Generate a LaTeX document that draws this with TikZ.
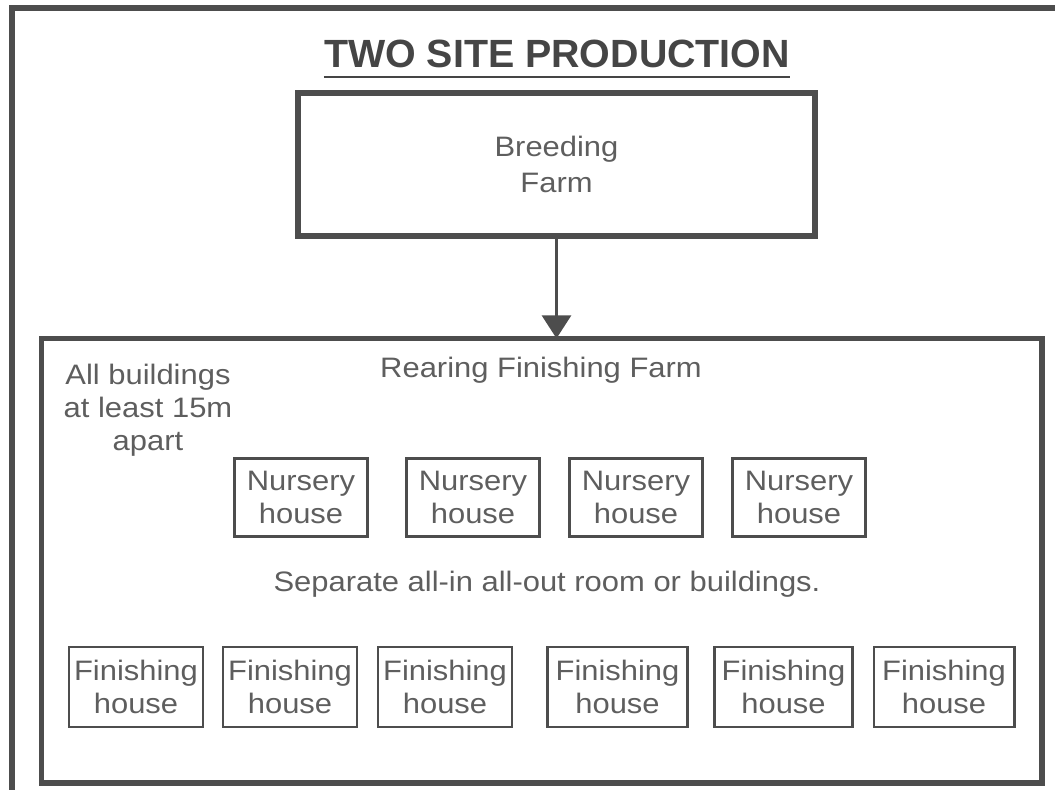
\documentclass[tikz,border=0pt]{standalone}
\usepackage{fontspec}
\setmainfont{Liberation Sans}[FakeStretch=1.1]
\newfontfamily\titlefont{Liberation Sans}
\usepackage{tikz}
\usetikzlibrary{arrows.meta}

\definecolor{linegray}{HTML}{4D4D4D}
\definecolor{textgray}{HTML}{5E5E5E}
\definecolor{titlegray}{HTML}{454545}

\begin{document}
\begin{tikzpicture}[x=0.025cm, y=-0.025cm,
  frame/.style={draw=linegray, line width=3.9pt},
  farm/.style={rectangle, draw=linegray, line width=3.9pt, outer sep=0pt,
               align=center, text=textgray, font=\fontsize{20}{26}\selectfont},
  house/.style={rectangle, draw=linegray, line width=2.1pt, inner sep=1pt,
                align=center, text=textgray, font=\fontsize{20}{23.5}\selectfont},
  note/.style={align=center, text=textgray, font=\fontsize{20}{23.5}\selectfont},
  arrow/.style={-{Triangle[width=0.72cm,length=0.58cm]}, draw=linegray, line width=2.8pt}
]
\useasboundingbox (0,0) rectangle (1055,790);

%% Outer frame (cut off at right and bottom)
\draw[frame] (12,8) rectangle (1080,815);

%% Title
\node[anchor=base, inner sep=0pt, text=titlegray,
      font=\titlefont\bfseries\fontsize{28}{28}\selectfont] (title) at (557,67) {TWO SITE PRODUCTION};
\draw[draw=titlegray, line width=2.1pt]
  ([yshift=-0.25cm]title.base west) -- ([yshift=-0.25cm]title.base east);

%% Farms
\node[farm, minimum width=12.925cm, minimum height=3.575cm] at (556.5,164.5) (breed) {Breeding\\Farm};
\node[farm, minimum width=25.01cm,  minimum height=11.11cm] at (541.75,560.75) (rear) {};

%% Labels inside the rearing farm
\node[note] at (541,370) (rearlbl) {Rearing Finishing Farm};
\node[note] at (148,410) (dist)    {All buildings\\at least 15m\\apart};
\node[note] at (547,584) (sep)     {Separate all-in all-out room or buildings.};

%% Nursery houses
\node[house, minimum width=3.325cm, minimum height=1.95cm] at (301,497.5) (nur1) {Nursery\\house};
\node[house, minimum width=3.325cm, minimum height=1.95cm] at (473,497.5) (nur2) {Nursery\\house};
\node[house, minimum width=3.325cm, minimum height=1.95cm] at (636,497.5) (nur3) {Nursery\\house};
\node[house, minimum width=3.325cm, minimum height=1.95cm] at (799,497.5) (nur4) {Nursery\\house};

%% Finishing houses
\node[house, minimum width=3.35cm, minimum height=2cm] at (136,687)   (fin1) {Finishing\\house};
\node[house, minimum width=3.35cm, minimum height=2cm] at (290,687)   (fin2) {Finishing\\house};
\node[house, minimum width=3.35cm, minimum height=2cm] at (445,687)   (fin3) {Finishing\\house};
\node[house, minimum width=3.5cm,  minimum height=2cm] at (617.5,687) (fin4) {Finishing\\house};
\node[house, minimum width=3.45cm, minimum height=2cm] at (783.5,687) (fin5) {Finishing\\house};
\node[house, minimum width=3.5cm,  minimum height=2cm] at (944,687)   (fin6) {Finishing\\house};

%% Arrow
\draw[arrow] (breed) -- (breed |- rear.north);
\end{tikzpicture}
\end{document}
